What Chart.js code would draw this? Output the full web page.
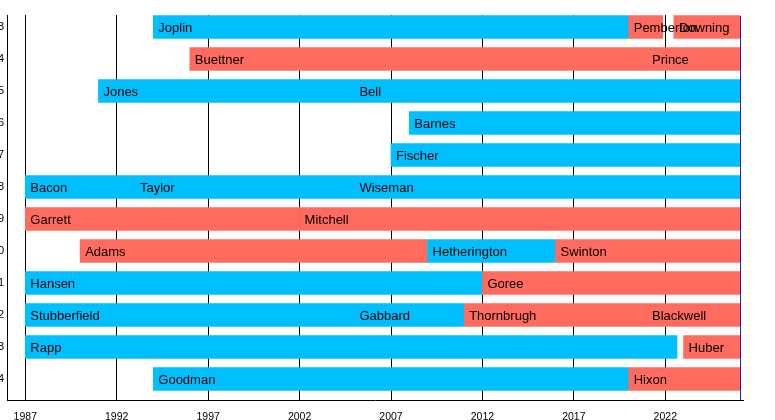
<!DOCTYPE html>
<html>
<head>
<meta charset="utf-8">
<script src="https://cdn.jsdelivr.net/npm/chart.js@4"></script>
<style>
  html, body { margin: 0; padding: 0; background: #ffffff; }
  #c { display: block; }
</style>
</head>
<body>
<canvas id="c" width="775" height="420"></canvas>
<script>
// ---- data ----
const rowLabels = ['3','4','5','6','7','8','9','10','11','12','13','14'];
const tickYears = [1987, 1992, 1997, 2002, 2007, 2012, 2017, 2022];
const xMin = 1986.0;
const xMax = 2026.25;
const nowYear = 2026.1;

const segNames = ['Joplin','Pemberton','Downing','Buettner','Prince','Jones','Bell','Barnes','Fischer',
  'Bacon','Taylor','Wiseman','Garrett','Mitchell','Adams','Hetherington','Swinton','Hansen','Goree',
  'Stubberfield','Gabbard','Thornbrugh','Blackwell','Rapp','Huber','Goodman','Hixon'];
const segRows = [0,0,0,1,1,2,2,3,4,5,5,5,6,6,7,7,7,8,8,9,9,9,9,10,10,11,11];
const segStart = [1994,2020,2022.47,1996,2021,1991,2005,2008,2007,1987,1993,2005,1987,2002,1990,2009,2016,
  1987,2012,1987,2005,2011,2021,1987,2023,1994,2020];
const segEnd = [2020,2021.86,2026.1,2021,2026.1,2005,2026.1,2026.1,2026.1,1993,2005,2026.1,2002,2026.1,2009,2016,2026.1,
  2012,2026.1,2005,2011,2021,2026.1,2022.64,2026.1,2020,2026.1];
const segParty = ['D','R','R','R','R','D','D','D','D','D','D','D','R','R','R','D','R','D','R','D','D','R','R','D','R','D','R'];

const partyColors = { D: '#00BFFF', R: '#FF6B5E' };
const FONT = '"Liberation Sans", Arial, sans-serif';

const barLabels = {
  id: 'barLabels',
  afterDatasetsDraw(chart) {
    const { ctx, scales: { x, y }, chartArea } = chart;
    ctx.save();
    // "now" line
    const nx = Math.round(x.getPixelForValue(nowYear)) + 0.5;
    ctx.strokeStyle = '#3A10C8';
    ctx.lineWidth = 1;
    ctx.beginPath();
    ctx.moveTo(nx, chartArea.top + 1);
    ctx.lineTo(nx, chartArea.bottom);
    ctx.stroke();
    // labels
    ctx.fillStyle = '#000000';
    ctx.font = '13px ' + FONT;
    ctx.textAlign = 'left';
    ctx.textBaseline = 'alphabetic';
    segNames.forEach((name, i) => {
      const px = x.getPixelForValue(segStart[i]) + 5;
      const py = y.getPixelForValue(segRows[i]) + 4.7;
      ctx.fillText(name, px, py);
    });
    ctx.restore();
  }
};

new Chart(document.getElementById('c'), {
  type: 'bar',
  data: {
    datasets: [{
      data: segNames.map((n, i) => ({ x: [segStart[i], segEnd[i]], y: segRows[i] })),
      backgroundColor: segParty.map(p => partyColors[p]),
      borderWidth: 0,
      borderSkipped: false,
      barThickness: 23
    }]
  },
  options: {
    indexAxis: 'y',
    responsive: false,
    animation: false,
    devicePixelRatio: 1,
    layout: { padding: { top: 15, right: 32, left: 0, bottom: 0 } },
    plugins: { legend: { display: false }, tooltip: { enabled: false } },
    scales: {
      x: {
        type: 'linear',
        position: 'bottom',
        min: xMin,
        max: xMax,
        offset: false,
        afterBuildTicks: (s) => { s.ticks = tickYears.map(v => ({ value: v })); },
        afterFit: (s) => { s.height = 20; },
        ticks: {
          callback: (v) => String(v),
          color: '#000000',
          font: { family: FONT, size: 10.5 },
          padding: 11,
          maxRotation: 0,
          autoSkip: false
        },
        grid: { color: '#000000', lineWidth: 1, drawTicks: false, offset: false },
        border: { display: true, color: '#000000', width: 1 }
      },
      y: {
        type: 'linear',
        reverse: true,
        offset: false,
        min: -0.375,
        max: 11.656,
        afterBuildTicks: (s) => { s.ticks = rowLabels.map((_, i) => ({ value: i })); },
        afterFit: (s) => { s.width = 7; },
        ticks: {
          callback: (v) => rowLabels[v],
          color: '#000000',
          font: { family: FONT, size: 11 },
          padding: 3,
          autoSkip: false
        },
        grid: { display: true, color: 'rgba(0,0,0,0)', drawTicks: false, offset: false },
        border: { display: true, color: '#000000', width: 1 }
      }
    }
  },
  plugins: [barLabels]
});
</script>
</body>
</html>
